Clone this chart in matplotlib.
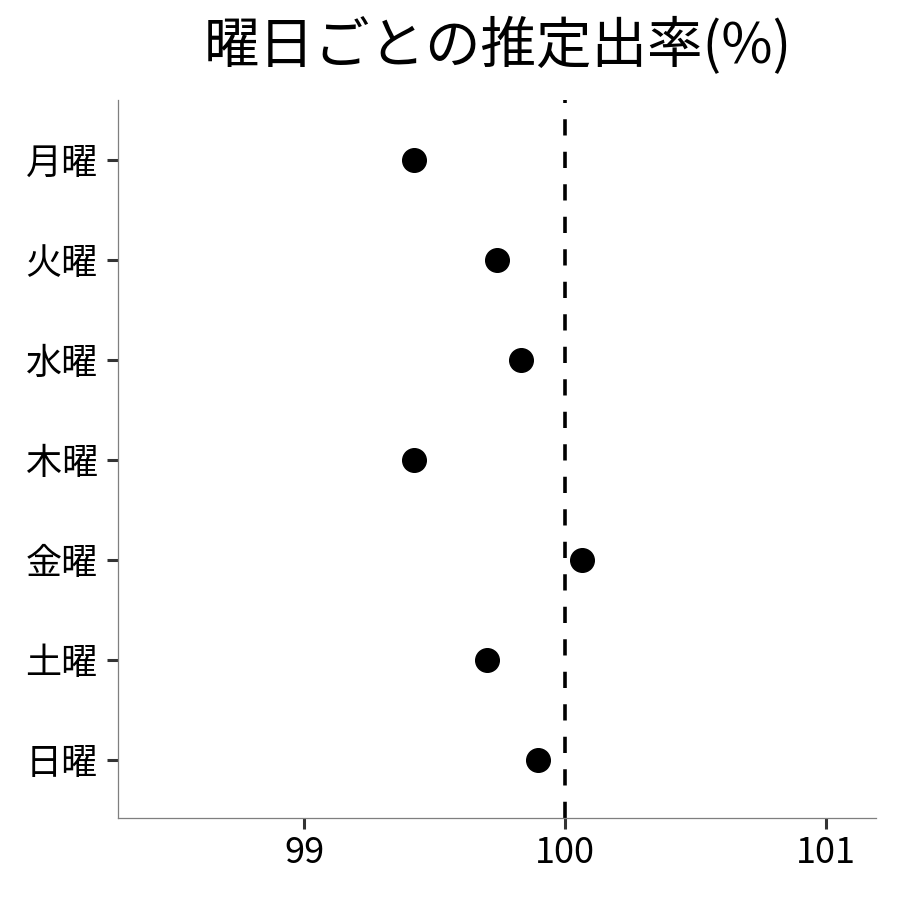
import matplotlib
matplotlib.use("Agg")
import matplotlib.pyplot as plt

plt.rcParams['font.family'] = ['Noto Sans CJK JP', 'DejaVu Sans']

days = ["月曜", "火曜", "水曜", "木曜", "金曜", "土曜", "日曜"]
rates = [99.42, 99.74, 99.83, 99.42, 100.065, 99.70, 99.895]
xticks = [99, 100, 101]
ref_value = 100

fig = plt.figure(figsize=(9, 9), dpi=100)
ax = fig.add_axes([0.1311, 0.0911, 0.8422, 0.7978])

ypos = list(range(len(days)))
ax.axvline(ref_value, color='black', linestyle=(0, (4.5, 4.5)), linewidth=2.6, zorder=1)
ax.plot(rates, ypos, 'o', color='black', markersize=17, zorder=3)

ax.set_xlim(98.287, 101.19)
ax.set_ylim(6.58, -0.6)
ax.set_xticks(xticks)
ax.set_xticklabels([str(v) for v in xticks])
ax.set_yticks(ypos)
ax.set_yticklabels(days)

for s in ['top', 'right']:
    ax.spines[s].set_visible(False)
for s in ['left', 'bottom']:
    ax.spines[s].set_color('#7f7f7f')
    ax.spines[s].set_linewidth(0.9)
ax.tick_params(axis='both', length=8, width=2.2, color='#333333', labelsize=26, labelcolor='black')
ax.tick_params(axis='y', pad=6.5)
ax.tick_params(axis='x', pad=4.5)

fig.text(0.553, 0.948, "曜日ごとの推定出率(%)", ha='center', va='center', fontsize=40, color='black')

fig.savefig("out.png", dpi=100, facecolor='white')
